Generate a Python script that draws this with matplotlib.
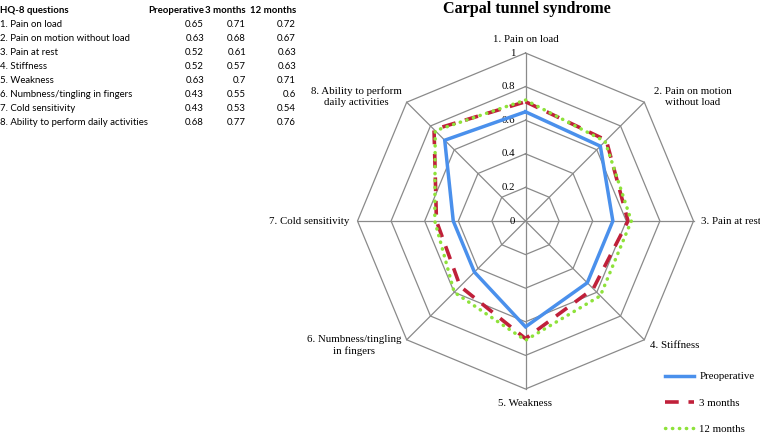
import numpy as np
import matplotlib
matplotlib.use("Agg")
import matplotlib.pyplot as plt

questions = ["1. Pain on load", "2. Pain on motion without load", "3. Pain at rest",
             "4. Stiffness", "5. Weakness", "6. Numbness/tingling in fingers",
             "7. Cold sensitivity", "8. Ability to perform daily activities"]
axis_labels = ["1. Pain on load", "2. Pain on motion\nwithout load", "3. Pain at rest",
               "4. Stiffness", "5. Weakness", "6. Numbness/tingling\nin fingers",
               "7. Cold sensitivity", "8. Ability to perform\ndaily activities"]
series_names = ["Preoperative", "3 months", "12 months"]
preop = [0.65, 0.63, 0.52, 0.52, 0.63, 0.43, 0.43, 0.68]
m3 = [0.71, 0.68, 0.61, 0.57, 0.7, 0.55, 0.53, 0.77]
m12 = [0.72, 0.67, 0.63, 0.63, 0.71, 0.6, 0.54, 0.76]
ticks = [0, 0.2, 0.4, 0.6, 0.8, 1]
tick_labels = ["0", "0.2", "0.4", "0.6", "0.8", "1"]

W, H = 760, 437
SERIF = "Liberation Serif"
SANS = "Lato"
fs_serif = 7.8

fig = plt.figure(figsize=(W / 100, H / 100), dpi=100)

# axes spans the whole figure, 1 data unit = R pixels, centre at (cx, cy)
cx, cy, R = 525.5, 221, 168
ax = fig.add_axes([0, 0, 1, 1])
ax.set_xlim(-cx / R, (W - cx) / R)
ax.set_ylim(-(H - cy) / R, cy / R)
ax.set_aspect("equal")
ax.axis("off")

n = len(questions)
ang = np.pi / 2 - np.arange(n) * 2 * np.pi / n


def xy(vals):
    v = np.asarray(vals, dtype=float)
    x = v * np.cos(ang)
    y = v * np.sin(ang)
    return np.append(x, x[0]), np.append(y, y[0])


grid_col = "#8a8a8a"
for t in ticks[1:]:
    gx, gy = xy([t] * n)
    ax.plot(gx, gy, color=grid_col, lw=0.9, zorder=1)
for a in ang:
    ax.plot([0, np.cos(a)], [0, np.sin(a)], color=grid_col, lw=0.9, zorder=1)

for t, lab in zip(ticks, tick_labels):
    ax.text(-10 / R, t, lab, ha="right", va="center", fontsize=fs_serif,
            family=SERIF, zorder=2)

px, py = xy(preop)
ax.plot(px, py, color="#4a90ec", lw=2.5, solid_joinstyle="miter",
        label=series_names[0], zorder=3)
px, py = xy(m3)
ax.plot(px, py, color="#c0203a", lw=2.6, linestyle=(0, (3.8, 2.7)),
        label=series_names[1], zorder=4)
px, py = xy(m12)
ax.plot(px, py, color="#8ee23a", lw=2.5, linestyle=(0, (0.1, 1.9)),
        dash_capstyle="round", label=series_names[2], zorder=5)

# category labels (pixel positions relative to figure)
lab_pos = [(525.5, 39, "center"), (693, 97, "center"), (701, 221, "left"),
           (650, 345, "left"), (525.5, 403, "center"), (354, 345.5, "center"),
           (349, 221, "right"), (356, 97, "center")]
for lab, (lx, ly, ha) in zip(axis_labels, lab_pos):
    ax.text((lx - cx) / R, (cy - ly) / R, lab, ha=ha, va="center",
            multialignment="center", fontsize=fs_serif, family=SERIF,
            linespacing=1.25)

fig.text(527 / W, 1 - 9 / H, "Carpal tunnel syndrome", ha="center", va="center",
         fontsize=11.6, fontweight="bold", family=SERIF)

leg = fig.legend(loc="center left", bbox_to_anchor=(665 / W, 1 - 403 / H),
                 frameon=False, borderpad=0, borderaxespad=0,
                 handlelength=2.7, handletextpad=0.47, labelspacing=1.55,
                 prop={"family": SERIF, "size": fs_serif})

# data table at top left
col_x = [0, 204, 246, 296]
headers = ["HQ-8 questions"] + series_names
row0, step = 10.5, 14
fs = 6.9
fig.text(col_x[0] / W, 1 - row0 / H, headers[0], ha="left", va="center",
         fontsize=fs, fontweight="bold", family=SANS)
for j in range(3):
    fig.text(col_x[j + 1] / W, 1 - row0 / H, headers[j + 1], ha="right",
             va="center", fontsize=fs, fontweight="bold", family=SANS)
for i, q in enumerate(questions):
    y = 1 - (row0 + step * (i + 1)) / H
    fig.text(col_x[0] / W, y, q, ha="left", va="center", fontsize=fs, family=SANS)
    for j, vals in enumerate([preop, m3, m12]):
        fig.text(col_x[j + 1] / W, y, f"{vals[i]:g}", ha="right", va="center",
                 fontsize=fs, family=SANS)

fig.savefig("out.png", dpi=100)
